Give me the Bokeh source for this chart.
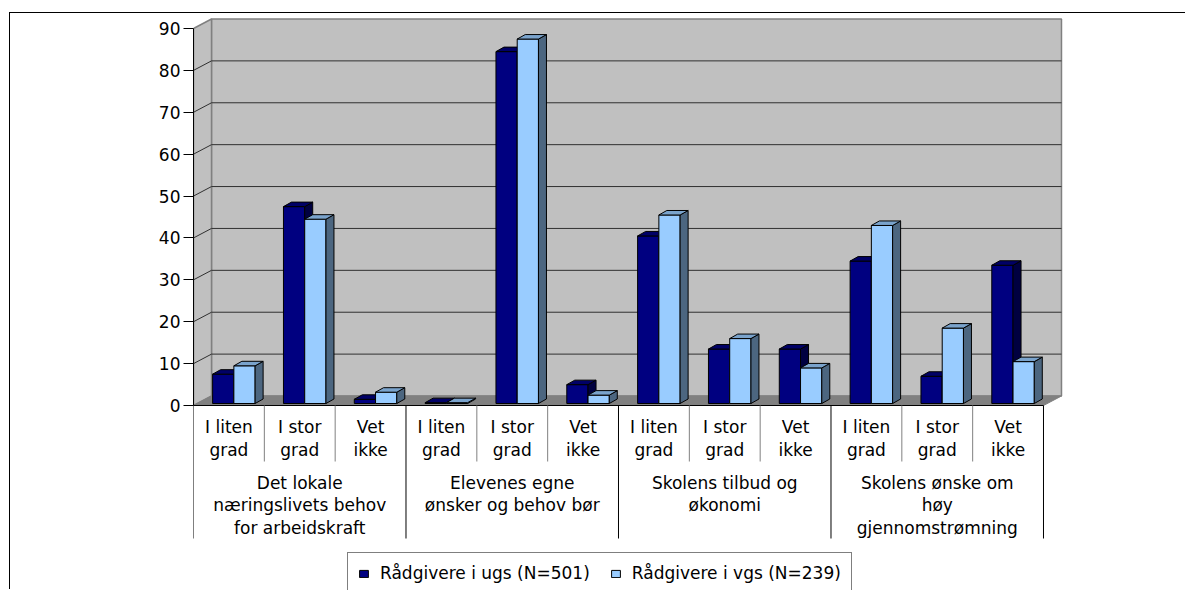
from bokeh.plotting import figure
from bokeh.models import Range1d, FixedTicker, Legend, LegendItem
from bokeh.embed import file_html
from bokeh.resources import INLINE
from bokeh.core.properties import value

# ---------------- data ----------------
groups = [
    "Det lokale\nnæringslivets behov\nfor arbeidskraft",
    "Elevenes egne\nønsker og behov bør",
    "Skolens tilbud og\nøkonomi",
    "Skolens ønske om\nhøy\ngjennomstrømning",
]
answers = ["I liten\ngrad", "I stor\ngrad", "Vet\nikke"]
series_names = ["Rådgivere i ugs (N=501)", "Rådgivere i vgs (N=239)"]
ugs = [7, 47, 1, 0.2, 84, 4.5, 40, 13, 13, 34, 6.5, 33]
vgs = [9, 44, 2.7, 0.2, 87, 2, 45, 15.5, 8.5, 42.5, 18, 10]
y_ticks = [0, 10, 20, 30, 40, 50, 60, 70, 80, 90]

# ---------------- layout ----------------
W, H = 1176, 577
LEFT = 183           # frame left (px)
SX = 70.833          # px per category
SY = 4.189           # px per value unit
ZERO_PX = 392        # zero line, px from canvas top
N = len(groups) * len(answers)
YMAX = y_ticks[-1]

FONT = "DejaVu Sans"
FS = "17px"

DXW, DYW = 18 / SX, 9.5 / SY      # wall depth
DXB, DYB = 8 / SX, 4.5 / SY       # bar depth
BASE = 2 / SY                     # bars sit slightly behind the front edge

p = figure(width=W, height=H, output_backend="svg", toolbar_location=None,
           x_range=Range1d(0, (W - LEFT) / SX),
           y_range=Range1d(-(H - ZERO_PX) / SY, ZERO_PX / SY),
           x_axis_location=None, tools="")
p.min_border_left = LEFT
p.min_border_right = 0
p.min_border_top = 0
p.min_border_bottom = 0
p.outline_line_color = None
p.background_fill_color = "white"
p.border_fill_color = "white"
p.grid.visible = False
p.margin = (12, 0, 0, 9)
p.styles = {"border-top": "1px solid black", "border-left": "1px solid black"}

# y axis
ax = p.yaxis[0]
ax.ticker = FixedTicker(ticks=y_ticks)
ax.bounds = (y_ticks[0], YMAX)
ax.axis_line_color = "black"
ax.major_tick_line_color = "black"
ax.major_tick_out = 10
ax.major_tick_in = 0
ax.minor_tick_line_color = None
ax.major_label_text_font = FONT
ax.major_label_text_font_size = FS
ax.major_label_text_color = "black"
ax.major_label_standoff = 3

# ---------------- walls ----------------
p.patch([DXW, N + DXW, N + DXW, DXW], [DYW, DYW, YMAX + DYW, YMAX + DYW],
        fill_color="#C0C0C0", line_color="#808080", line_width=1.5)
p.patch([0, DXW, DXW, 0], [0, DYW, YMAX + DYW, YMAX],
        fill_color="#C0C0C0", line_color="#808080", line_width=1.5)
p.patch([0, N, N + DXW, DXW], [0, 0, DYW, DYW],
        fill_color="#808080", line_color="#808080", line_width=1)
mid = y_ticks[1:-1]
p.segment(x0=[DXW] * len(mid), y0=[t + DYW for t in mid],
          x1=[N + DXW] * len(mid), y1=[t + DYW for t in mid],
          line_color="#303030", line_width=1)
p.segment(x0=[0] * len(mid), y0=mid, x1=[DXW] * len(mid), y1=[t + DYW for t in mid],
          line_color="#303030", line_width=1)


# ---------------- bars ----------------
def draw_series(vals, x0f, x1f, front, top, side):
    txs, tys, sxs, sys_ = [], [], [], []
    for i, v in enumerate(vals):
        x0, x1 = i + x0f, i + x1f
        b, t = BASE, BASE + v
        txs.append([x0, x0 + DXB, x1 + DXB, x1])
        tys.append([t, t + DYB, t + DYB, t])
        sxs.append([x1, x1 + DXB, x1 + DXB, x1])
        sys_.append([b, b + DYB, t + DYB, t])
    r = p.vbar(x=[i + (x0f + x1f) / 2 for i in range(len(vals))], width=x1f - x0f,
               bottom=BASE, top=[BASE + v for v in vals],
               fill_color=front, line_color="black", line_width=1)
    p.patches(sxs, sys_, fill_color=side, line_color="black", line_width=1)
    p.patches(txs, tys, fill_color=top, line_color="black", line_width=1)
    return r


r1 = draw_series(ugs, 0.27, 0.57, "#000080", "#000066", "#000040")
r2 = draw_series(vgs, 0.57, 0.87, "#99CCFF", "#7AA3CC", "#4C6680")

# ---------------- category table ----------------
p.segment(x0=[0], y0=[0], x1=[N], y1=[0], line_color="black", line_width=1)
sub_b = [i for i in range(N + 1) if i % len(answers) != 0]
p.segment(x0=sub_b, y0=[0] * len(sub_b), x1=sub_b, y1=[-56 / SY] * len(sub_b),
          line_color="#808080", line_width=1)
grp_b = [i for i in range(N + 1) if i % len(answers) == 0]
p.segment(x0=grp_b, y0=[0] * len(grp_b), x1=grp_b, y1=[-133 / SY] * len(grp_b),
          line_color="black", line_width=1)

tx, ty, tt = [], [], []
for g in range(len(groups)):
    for a, lab in enumerate(answers):
        for k, line in enumerate(lab.split("\n")):
            tx.append(g * len(answers) + a + 0.5)
            ty.append(-(21 + 23 * k) / SY)
            tt.append(line)
    for k, line in enumerate(groups[g].split("\n")):
        tx.append(g * len(answers) + len(answers) / 2)
        ty.append(-(77 + 22.5 * k) / SY)
        tt.append(line)
p.text(x=tx, y=ty, text=tt, text_font=value(FONT), text_font_size=FS,
       text_color="black", text_align="center", text_baseline="alphabetic")

# ---------------- legend ----------------
legend = Legend(items=[LegendItem(label=series_names[0], renderers=[r1]),
                       LegendItem(label=series_names[1], renderers=[r2])],
                orientation="horizontal", location=(154, -4))
legend.label_text_font = FONT
legend.label_text_font_size = FS
legend.label_text_color = "black"
legend.glyph_width = 11
legend.glyph_height = 9
legend.label_standoff = 11
legend.spacing = 20
legend.padding = 10
legend.margin = 0
legend.border_line_color = "black"
legend.border_line_width = 1
legend.background_fill_color = "white"
legend.background_fill_alpha = 1
p.add_layout(legend)

open("out.html", "w").write(file_html(p, INLINE))
